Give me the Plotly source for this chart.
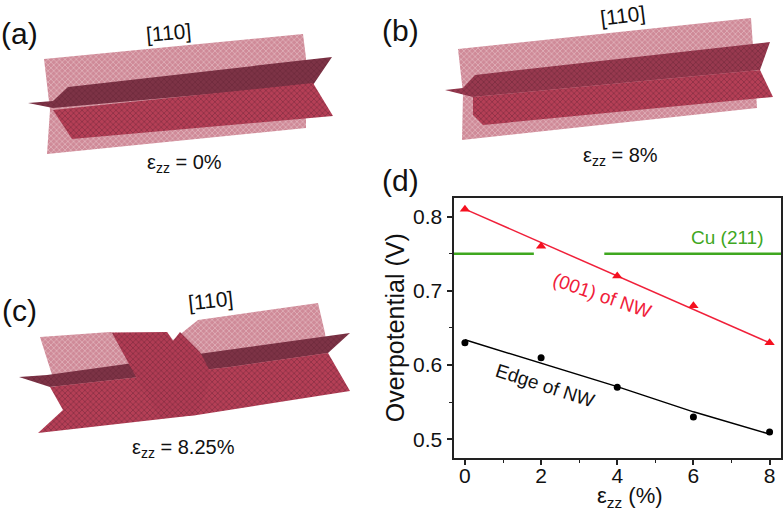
import plotly.graph_objects as go

# ---- chart (d) data ----
strain = [0, 2, 4, 6, 8]
facet_points = [0.81, 0.76, 0.72, 0.68, 0.63]
facet_fit = [0.81, 0.765, 0.72, 0.675, 0.63]
edge_points = [0.63, 0.61, 0.57, 0.53, 0.51]
edge_fit = [0.634, 0.603, 0.571, 0.537, 0.507]
cu_x = [-0.3, 1.81, None, 3.66, 8.3]
cu_y = [0.75, 0.75, None, 0.75, 0.75]
y_ticks = [0.5, 0.6, 0.7, 0.8]
x_ticks = [0, 2, 4, 6, 8]

# ---- nanowire illustrations (page pixels), back to front ----
PLATE, DARK, DARK_B, FRONT, MELT = "#cf8a98", "#7d3346", "#98394f", "#b53f56", "#b03c54"
wire_a = [
    (PLATE, [44, 303, 306, 306, 47, 50], [59, 34, 58, 128, 154, 110]),
    (DARK, [28, 53, 68, 332, 313, 53], [103, 101, 87, 57, 85, 108]),
    (FRONT, [53, 313, 333, 72], [110, 83, 116, 139]),
]
wire_b = [
    (PLATE, [458, 751, 755, 757, 462, 463], [49, 18, 75, 108, 140, 93]),
    (DARK_B, [445, 463, 475, 770, 760, 473], [90, 88, 75, 42, 70, 97]),
    (FRONT, [473, 760, 773, 483, 473], [97, 70, 97, 125, 115]),
]
wire_c = [
    (PLATE, [40, 110, 167, 173, 198, 318, 325, 330, 60],
            [337, 332, 332, 340, 320, 303, 333, 380, 400]),
    (DARK, [19, 47, 350, 328, 230, 50], [377, 375, 333, 353, 367, 387]),
    (FRONT, [50, 230, 328, 350, 197, 95, 38, 63],
            [387, 367, 353, 391, 415, 427, 433, 410]),
    (MELT, [112, 167, 173, 180, 200, 212, 197, 160, 135],
           [333, 332, 341, 332, 352, 375, 415, 418, 375]),
]

fig = go.Figure()

for wire in (wire_a, wire_b, wire_c):
    for color, xs, ys in wire:
        fig.add_trace(go.Scatter(
            x=xs + xs[:1], y=ys + ys[:1], xaxis="x2", yaxis="y2",
            mode="lines", line=dict(width=0), fill="toself", fillcolor=color,
            fillpattern=dict(shape="x", size=4, solidity=0.35,
                             fgcolor="#5c2030" if color != PLATE else "#f4dfe3",
                             bgcolor=color),
            hoverinfo="skip", showlegend=False))

fig.add_trace(go.Scatter(x=cu_x, y=cu_y, mode="lines",
                         line=dict(color="#3fa71f", width=2.6), showlegend=False))
fig.add_trace(go.Scatter(x=strain, y=facet_fit, mode="lines",
                         line=dict(color="#f0203a", width=1.5), showlegend=False))
fig.add_trace(go.Scatter(x=strain, y=facet_points, mode="markers",
                         marker=dict(symbol="triangle-up", color="#f5101f", size=9),
                         showlegend=False))
fig.add_trace(go.Scatter(x=strain, y=edge_fit, mode="lines",
                         line=dict(color="#000000", width=1.5), showlegend=False))
fig.add_trace(go.Scatter(x=strain, y=edge_points, mode="markers",
                         marker=dict(symbol="circle", color="#000000", size=7),
                         showlegend=False))

FONT = "Liberation Sans"


def label(x, y, text, size, color="#111111", angle=0):
    fig.add_annotation(x=x, y=y, xref="x2", yref="y2", text=text, showarrow=False,
                       textangle=angle, font=dict(family=FONT, size=size, color=color),
                       xanchor="center", yanchor="middle")


for x, y, t in [(19, 33, "(a)"), (400, 30, "(b)"), (19, 310, "(c)"), (400, 180, "(d)")]:
    label(x, y, t, 30)
for x, y, a in [(168, 32, -5), (622, 15, -7), (210, 300, -6)]:
    label(x, y, "[110]", 21, angle=a)
for x, y, t in [(184, 163, "0%"), (620, 156, "8%"), (183, 448, "8.25%")]:
    label(x, y, "ε<sub>zz</sub> = " + t, 20)
label(727, 237, "Cu (211)", 19, "#3fa71f")
label(602, 295, "(001) of NW", 19, "#f0203a", 19)
label(545, 385, "Edge of NW", 19, "#111111", 18)
label(630, 497, "ε<sub>zz</sub> (%)", 22)

fig.update_layout(
    width=784, height=515, margin=dict(l=0, r=0, t=0, b=0),
    paper_bgcolor="white", plot_bgcolor="rgba(0,0,0,0)", showlegend=False,
    font=dict(family=FONT, color="#111111"),
    xaxis=dict(domain=[453.5 / 784, 781 / 784], range=[-0.3, 8.3], tickvals=x_ticks,
               ticks="outside", ticklen=5, tickwidth=1.5, tickcolor="#222222",
               minor=dict(tickvals=[1, 3, 5, 7], ticks="outside", ticklen=3,
                          tickwidth=1.2, tickcolor="#222222"),
               showgrid=False, zeroline=False, showline=True, linewidth=2,
               linecolor="#222222", mirror=True, tickfont=dict(size=21),
               ticklabelstandoff=-7),
    yaxis=dict(domain=[1 - 457.5 / 515, 1 - 198 / 515], range=[0.4755, 0.825],
               tickvals=y_ticks, tickformat=".1f",
               ticks="outside", ticklen=5, tickwidth=1.5, tickcolor="#222222",
               minor=dict(tickvals=[0.55, 0.65, 0.75], ticks="outside", ticklen=3,
                          tickwidth=1.2, tickcolor="#222222"),
               showgrid=False, zeroline=False, showline=True, linewidth=2,
               linecolor="#222222", mirror=True, tickfont=dict(size=21),
               title=dict(text="Overpotential (V)", font=dict(size=25), standoff=1)),
    xaxis2=dict(domain=[0, 1], range=[0, 784], visible=False, anchor="y2"),
    yaxis2=dict(domain=[0, 1], range=[515, 0], visible=False, anchor="x2"),
)

fig.write_html("out.html", post_script="document.body.style.margin='0';",
               config={"displayModeBar": False})
